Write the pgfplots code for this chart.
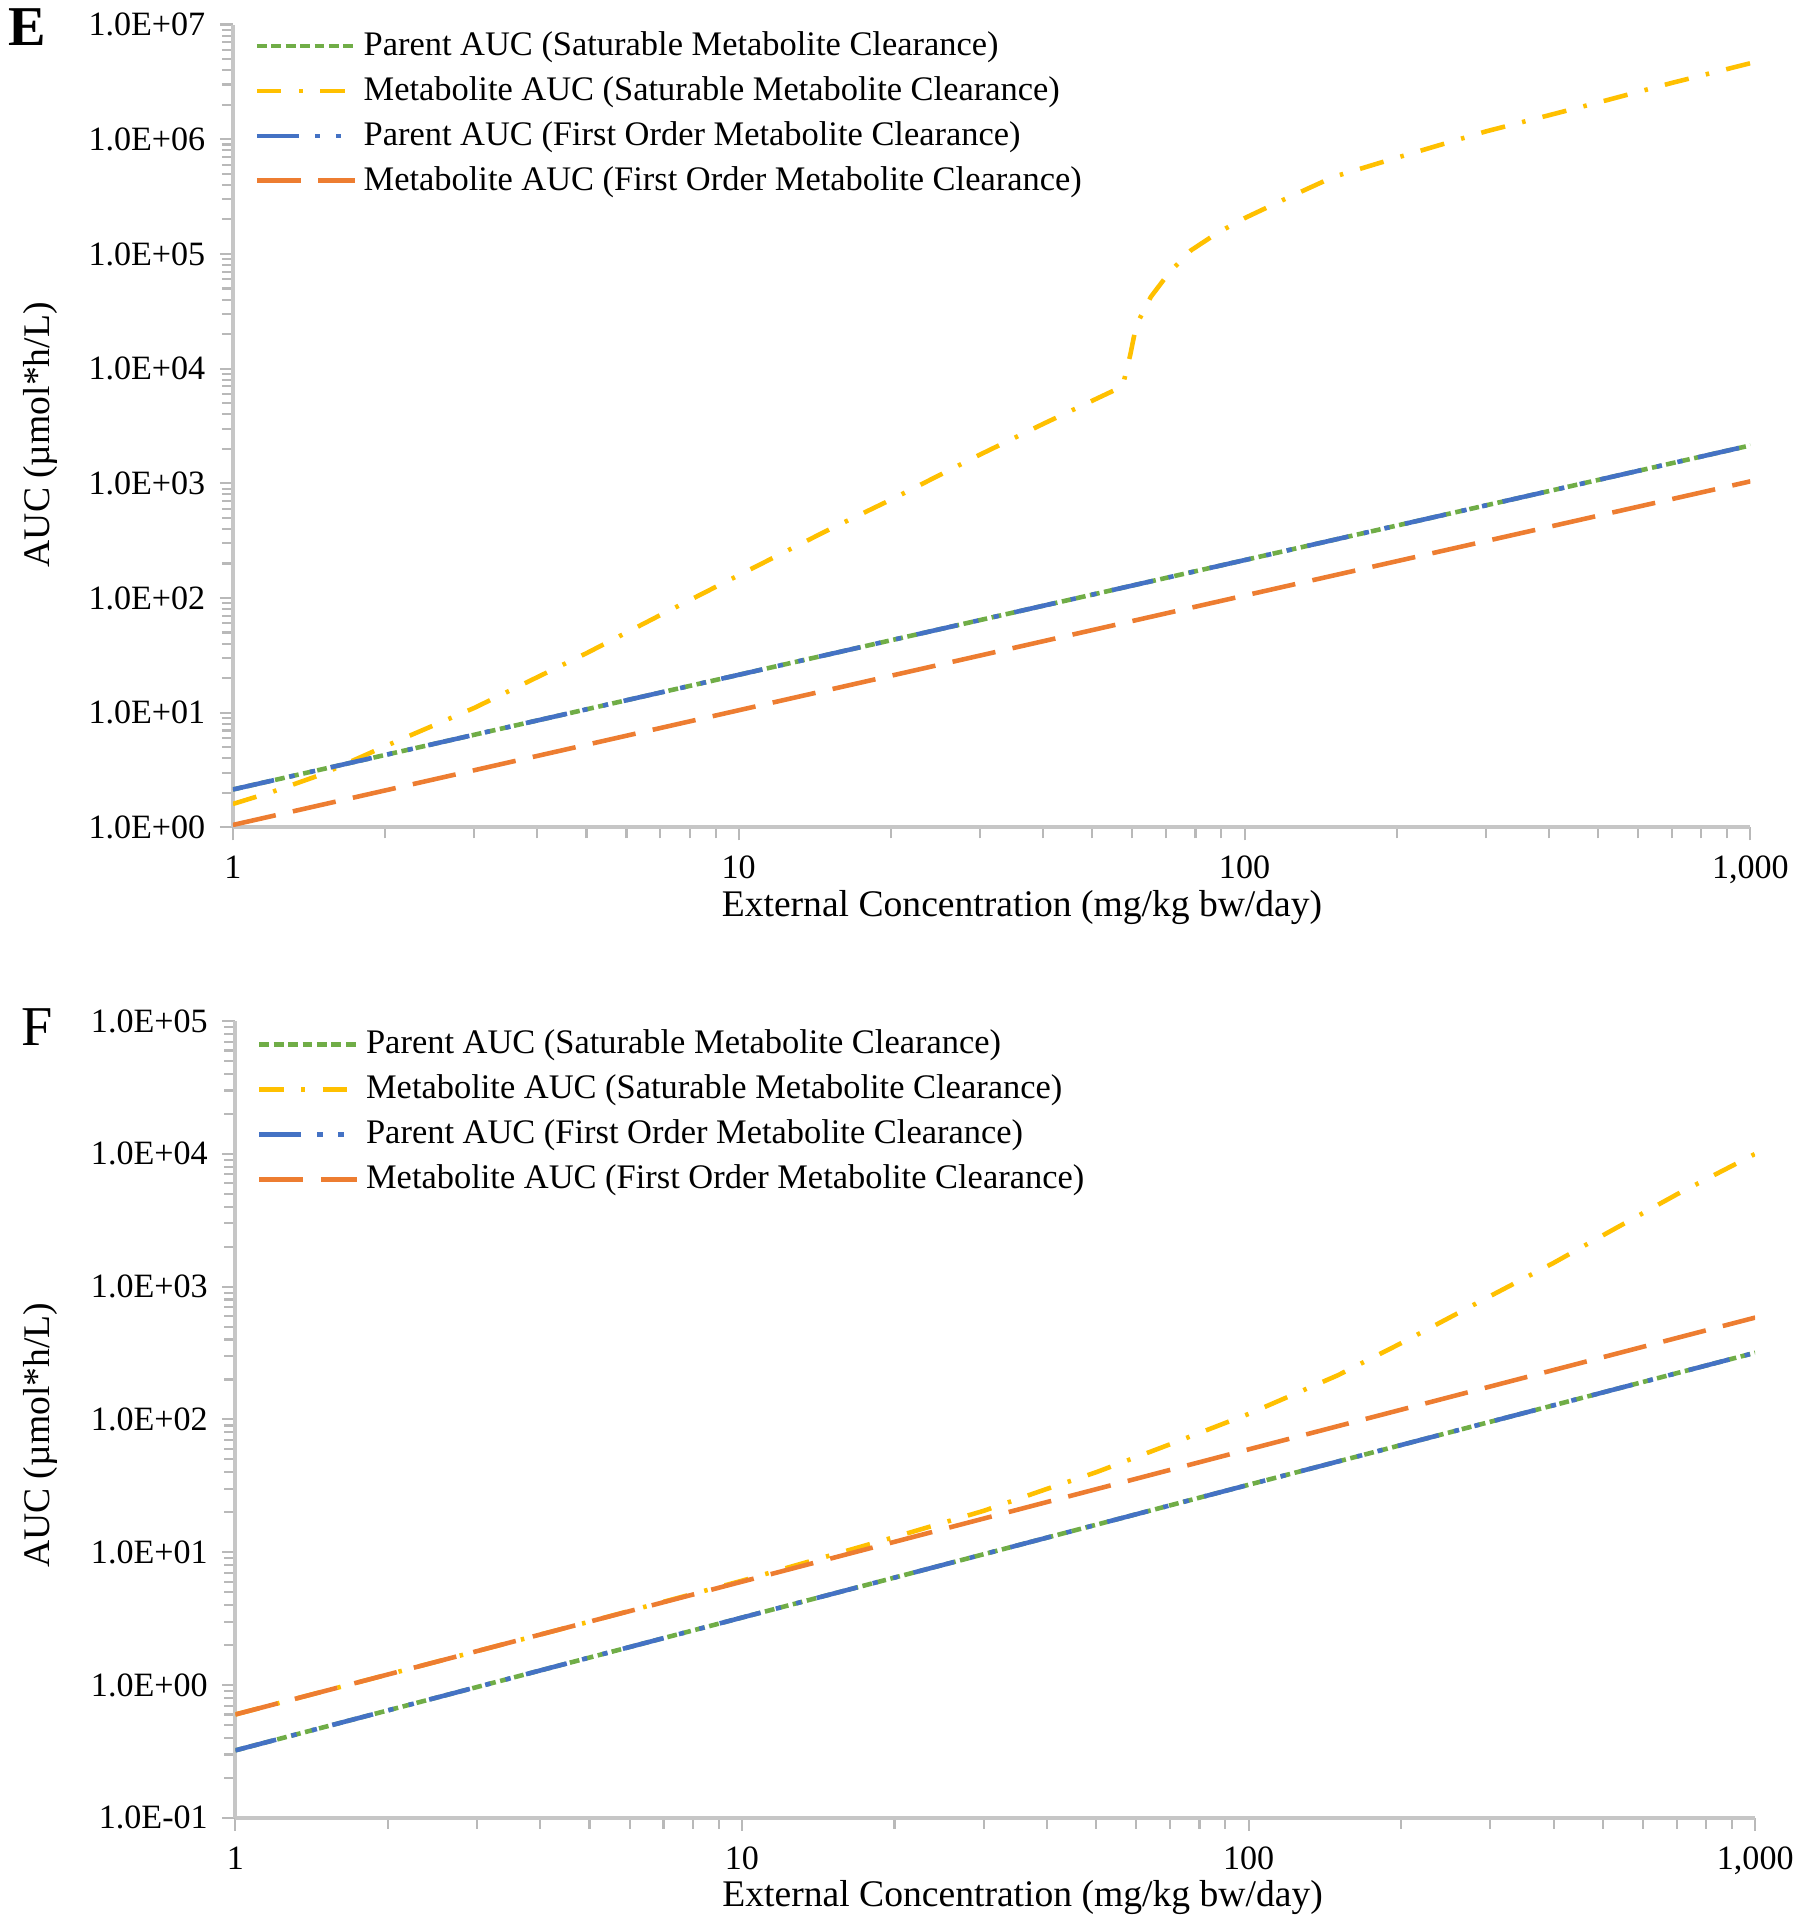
\documentclass[border=0pt]{standalone}
\usepackage{fontspec}
\setmainfont{Liberation Serif}
\usepackage{pgfplots}
\pgfplotsset{compat=1.18}
\definecolor{cgreen}{HTML}{70AD47}
\definecolor{cgold}{HTML}{FFC000}
\definecolor{cblue}{HTML}{4472C4}
\definecolor{corange}{HTML}{ED7D31}
\pgfplotsset{
  common/.style={
    scale only axis, xmin=1, xmax=1000,
    axis x line*=bottom, axis y line*=left,
    axis line style={draw=gray!45, line width=1.2pt},
    tick align=outside,
    major tick length=0.13cm, minor tick length=0.11cm,
    tick style={draw=gray!55, line width=0.6pt},
    xtick={1,10,100,1000}, xticklabels={1,10,100,{1,000}},
    minor xtick={2,3,4,5,6,7,8,9,20,30,40,50,60,70,80,90,200,300,400,500,600,700,800,900},
    tick label style={font=\fontsize{9.7}{12}\selectfont},
    xticklabel style={anchor=north, inner sep=0pt, yshift=-0.15cm},
    yticklabel style={anchor=east, inner sep=0pt, xshift=-0.14cm},
    label style={font=\fontsize{10.7}{12}\selectfont},
    xlabel={External Concentration (mg/kg bw/day)},
    ylabel={AUC (µmol*h/L)},
    xlabel style={at={(axis description cs:0.52,-0.1)}, anchor=center},
    ylabel style={at={(axis description cs:-0.127,0.489)}, anchor=center},
    legend style={at={(axis description cs:0,1)}, anchor=north west,
      xshift=0.21cm, yshift=-0.025cm, draw=none, fill=none, inner sep=0pt,
      row sep=2.5pt, column sep=0.03cm, nodes={inner sep=1pt},
      font=\fontsize{9.8}{12}\selectfont},
    legend cell align=left,
    legend image code/.code={\draw[##1] (0cm,0cm) -- (0.98cm,0cm);},
    no markers,
  },
}
\tikzset{
  pgreen/.style={cgreen, line width=1.3pt, dash pattern=on 2.8pt off 1.3pt},
  pgold/.style={cgold, line width=1.3pt, dash pattern=on 7pt off 5pt on 1pt off 5pt},
  pblue/.style={cblue, line width=1.3pt, dash pattern=on 12pt off 4.5pt on 1.5pt off 4.5pt on 1.5pt off 4.5pt},
  porange/.style={corange, line width=1.3pt, dash pattern=on 12.5pt off 5pt},
}
\begin{document}
\begin{tikzpicture}
\useasboundingbox (0,0) rectangle (17.998,-19.224);
\node[font=\fontsize{16}{16}\selectfont\bfseries] at (0.27,-0.27) {E};
\node[font=\fontsize{16}{16}\selectfont] at (0.368,-10.27) {F};
\begin{loglogaxis}[common, at={(2.3294cm,-8.2755cm)}, anchor=south west,
  width=15.178cm, height=8.030cm, ymin=1, ymax=1e7,
  ytick={1,10,100,1000,10000,100000,1000000,10000000},
  yticklabels={1.0E+00,1.0E+01,1.0E+02,1.0E+03,1.0E+04,1.0E+05,1.0E+06,1.0E+07},
  minor ytick={2,3,4,5,6,7,8,9,20,30,40,50,60,70,80,90,200,300,400,500,600,700,800,900,
    2e3,3e3,4e3,5e3,6e3,7e3,8e3,9e3,2e4,3e4,4e4,5e4,6e4,7e4,8e4,9e4,
    2e5,3e5,4e5,5e5,6e5,7e5,8e5,9e5,2e6,3e6,4e6,5e6,6e6,7e6,8e6,9e6},
]
\addplot[pgreen] coordinates {(1,2.14)(10,21.4)(100,214)(1000,2140)};
\addlegendentry{Parent AUC (Saturable Metabolite Clearance)}
\addplot[pgold] coordinates {(1,1.6)(1.2,2.05)(1.5,2.9)(2,5.1)(3,11)(5,33)(7,71)(10,158)(15,390)(20,720)(30,1780)(40,3300)(50,5250)(57.4,7000)(59.4,13000)(61.1,24000)(65.3,42300)(71,69000)(78.5,108000)(88.3,152000)(100,205000)(120,300000)(150,470000)(200,690000)(300,1170000)(400,1620000)(500,2090000)(700,3100000)(1000,4600000)};
\addlegendentry{Metabolite AUC (Saturable Metabolite Clearance)}
\addplot[pblue] coordinates {(1,2.14)(10,21.4)(100,214)(1000,2140)};
\addlegendentry{Parent AUC (First Order Metabolite Clearance)}
\addplot[porange] coordinates {(1,1.05)(10,10.5)(100,105)(1000,1040)};
\addlegendentry{Metabolite AUC (First Order Metabolite Clearance)}
\end{loglogaxis}
\begin{loglogaxis}[common, at={(2.3539cm,-18.1816cm)}, anchor=south west,
  width=15.202cm, height=7.969cm, ymin=0.1, ymax=1e5,
  ytick={0.1,1,10,100,1000,10000,100000},
  yticklabels={1.0E-01,1.0E+00,1.0E+01,1.0E+02,1.0E+03,1.0E+04,1.0E+05},
  minor ytick={0.2,0.3,0.4,0.5,0.6,0.7,0.8,0.9,2,3,4,5,6,7,8,9,20,30,40,50,60,70,80,90,200,300,400,500,600,700,800,900,
    2e3,3e3,4e3,5e3,6e3,7e3,8e3,9e3,2e4,3e4,4e4,5e4,6e4,7e4,8e4,9e4},
  xlabel style={at={(axis description cs:0.518,-0.1)}, anchor=center},
  ylabel style={at={(axis description cs:-0.128,0.48)}, anchor=center},
  legend style={yshift=-0.02cm},
]
\addplot[pgreen] coordinates {(1,0.322)(10,3.22)(100,32.2)(1000,318)};
\addlegendentry{Parent AUC (Saturable Metabolite Clearance)}
\addplot[pgold] coordinates {(1,0.6)(2,1.2)(5,3.0)(10,6.1)(15,9.5)(20,13)(30,20.5)(40,30)(50,40)(70,65)(100,110)(150,215)(200,375)(300,850)(400,1510)(500,2430)(700,4950)(1000,10000)};
\addlegendentry{Metabolite AUC (Saturable Metabolite Clearance)}
\addplot[pblue] coordinates {(1,0.322)(10,3.22)(100,32.2)(1000,318)};
\addlegendentry{Parent AUC (First Order Metabolite Clearance)}
\addplot[porange] coordinates {(1,0.6)(10,6.0)(100,59.5)(1000,585)};
\addlegendentry{Metabolite AUC (First Order Metabolite Clearance)}
\end{loglogaxis}
\end{tikzpicture}
\end{document}
